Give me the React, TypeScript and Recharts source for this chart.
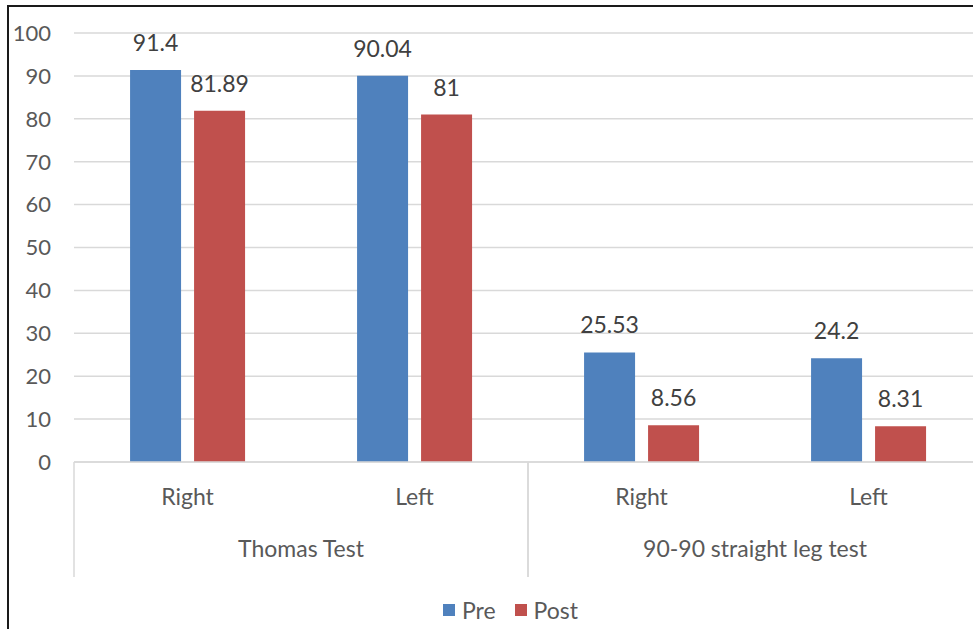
import { BarChart, Bar, XAxis, YAxis, CartesianGrid, Legend, LabelList } from 'recharts';

const SIDES = ['Right', 'Left', 'Right', 'Left'];
const GROUPS = ['Thomas Test', 'Thomas Test', '90-90 straight leg test', '90-90 straight leg test'];
const PRE = [91.4, 90.04, 25.53, 24.2];
const POST = [81.89, 81, 8.56, 8.31];
const Y_TICKS = [0, 10, 20, 30, 40, 50, 60, 70, 80, 90, 100];
const SERIES_ORDER = ['Pre', 'Post'];

const data = SIDES.map((side, i) => ({ side, group: GROUPS[i], pre: PRE[i], post: POST[i] }));

const FONT = 'Lato, "Open Sans", sans-serif';
const TEXT = '#595959';
const GRID = '#d9d9d9';
const FS = 23;

function SideTick({ x, y, payload }: any) {
  return (
    <text x={x} y={y + 35} textAnchor="middle" fill={TEXT} fontSize={FS} fontFamily={FONT}>
      {payload.value}
    </text>
  );
}

function GroupTick({ x, y, payload }: any) {
  const half = payload.offset ?? 227;
  return (
    <g>
      <line x1={x - half} x2={x - half} y1={y - 63} y2={y + 52} stroke={GRID} strokeWidth={1.5} />
      <line x1={x + half} x2={x + half} y1={y - 63} y2={y + 52} stroke={GRID} strokeWidth={1.5} />
      <text x={x} y={y + 32} textAnchor="middle" fill={TEXT} fontSize={FS} fontFamily={FONT}>
        {payload.value}
      </text>
    </g>
  );
}

function LegendBox({ payload }: any) {
  const items = [...(payload || [])].sort((a: any, b: any) => SERIES_ORDER.indexOf(a.value) - SERIES_ORDER.indexOf(b.value));
  return (
    <div style={{ height: 56, paddingTop: 9, boxSizing: 'border-box', display: 'flex', justifyContent: 'center', gap: 19, fontFamily: FONT, fontSize: FS, color: TEXT, lineHeight: '26px' }}>
      {items.map((p: any) => (
        <span key={p.value} style={{ display: 'flex', alignItems: 'center', gap: 7 }}>
          <span style={{ width: 12, height: 12, background: p.color, display: 'inline-block' }} />
          {p.value}
        </span>
      ))}
    </div>
  );
}

export default function App() {
  return (
    <div style={{ position: 'absolute', left: 0, top: 0, width: 973, height: 629, overflow: 'hidden', background: '#fff' }}>
      <div style={{ position: 'absolute', left: 7, top: 5, borderLeft: '2px solid #1a1a1a', borderTop: '2px solid #1a1a1a' }}>
        <BarChart
          width={1003}
          height={640}
          data={data}
          margin={{ top: 26, right: 30, bottom: 14, left: 0 }}
          barCategoryGap="24.7%"
          barGap={13}
          style={{ fontFamily: FONT }}
        >
          <CartesianGrid vertical={false} stroke={GRID} strokeWidth={1.5} />
          <XAxis dataKey="side" height={55} tickLine={false} axisLine={{ stroke: GRID, strokeWidth: 1.5 }} tick={<SideTick />} interval={0} />
          <XAxis xAxisId="group" dataKey="group" allowDuplicatedCategory={false} height={60} tickLine={false} axisLine={false} tick={<GroupTick />} interval={0} />
          <YAxis domain={[0, 100]} ticks={Y_TICKS} width={65} tickLine={false} axisLine={false} tickMargin={17} tick={{ fontSize: 22, fill: TEXT, fontFamily: FONT }} interval={0} />
          <Legend content={<LegendBox />} verticalAlign="bottom" wrapperStyle={{ left: 0, width: 1003 }} />
          <Bar dataKey="pre" name="Pre" fill="#4f81bd" isAnimationActive={false}>
            <LabelList dataKey="pre" position="top" offset={19} fill="#404040" fontSize={FS} fontFamily={FONT} />
          </Bar>
          <Bar dataKey="post" name="Post" fill="#c0504d" isAnimationActive={false}>
            <LabelList dataKey="post" position="top" offset={19} fill="#404040" fontSize={FS} fontFamily={FONT} />
          </Bar>
        </BarChart>
      </div>
    </div>
  );
}
